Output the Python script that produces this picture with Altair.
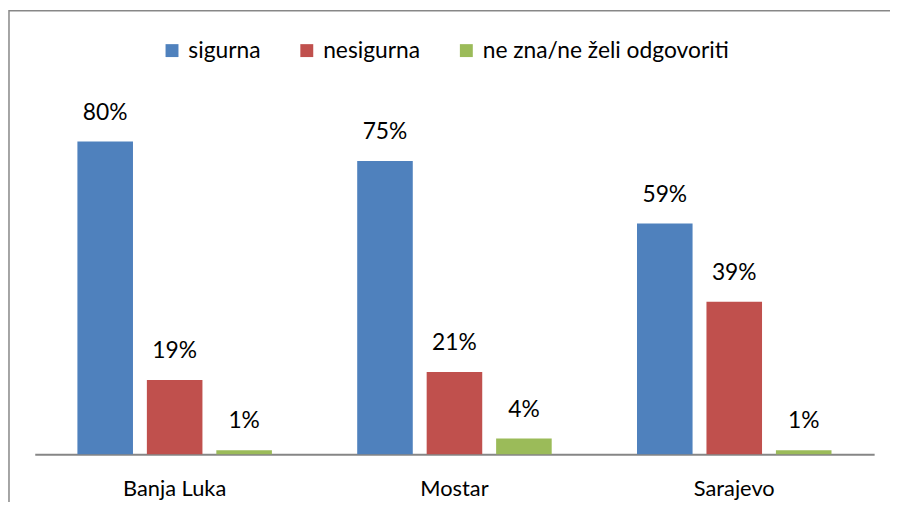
import altair as alt
import pandas as pd

cities = ["Banja Luka", "Mostar", "Sarajevo"]
series = ["sigurna", "nesigurna", "ne zna/ne želi odgovoriti"]
sigurna = [80, 75, 59]
nesigurna = [19, 21, 39]
ne_zna = [1, 4, 1]
colors = ["#4F81BD", "#C0504D", "#9BBB59"]

rows = []
for i, c in enumerate(cities):
    for s, vals in zip(series, [sigurna, nesigurna, ne_zna]):
        rows.append({"city": c, "series": s, "value": vals[i], "label": f"{vals[i]}%"})
df = pd.DataFrame(rows)

FONT = "Lato"
W, H = 847, 355

base = alt.Chart(df).encode(
    x=alt.X("city:N", sort=cities, title=None,
            scale=alt.Scale(paddingInner=0, paddingOuter=0),
            axis=alt.Axis(labelFont=FONT, labelFontSize=22, labelColor="#000000",
                          labelAngle=0, labelPadding=25, ticks=False, grid=False,
                          domainColor="#868686", domainWidth=2)),
    xOffset=alt.XOffset("series:N", sort=series,
                        scale=alt.Scale(paddingInner=0.2, paddingOuter=0.614)),
)

bars = base.mark_bar().encode(
    y=alt.Y("value:Q", scale=alt.Scale(domain=[0, 90]), axis=None),
    color=alt.Color("series:N", sort=series,
                    scale=alt.Scale(domain=series, range=colors),
                    legend=alt.Legend(title=None, orient="none", direction="horizontal",
                                      legendX=127, legendY=-64,
                                      symbolType="square", symbolSize=170,
                                      symbolStrokeWidth=0, labelFont=FONT,
                                      labelFontSize=23, labelColor="#000000",
                                      labelLimit=0,
                                      labelOffset=5, columnPadding=35, padding=0)),
)

labels = base.mark_text(font=FONT, fontSize=23, color="#000000",
                        baseline="bottom", dy=-17).encode(
    y=alt.Y("value:Q"),
    text="label:N",
)

frame_data = alt.Data(values=[{"a": 1}])
frame = alt.Chart(frame_data).mark_rect(
    fill="transparent", fillOpacity=0, stroke="#878787", strokeWidth=1.5
).encode(
    x=alt.value(-26), x2=alt.value(W + 40),
    y=alt.value(-92.5), y2=alt.value(H + 80),
)

chart = alt.layer(frame, bars, labels).properties(
    width=W, height=H,
    background="white",
    autosize=alt.AutoSizeParams(type="none"),
    padding={"left": 27, "top": 93, "right": 16, "bottom": 46},
).configure_view(stroke=None, strokeWidth=0)

chart.save("out.html", embed_options={"renderer": "svg", "actions": False})
